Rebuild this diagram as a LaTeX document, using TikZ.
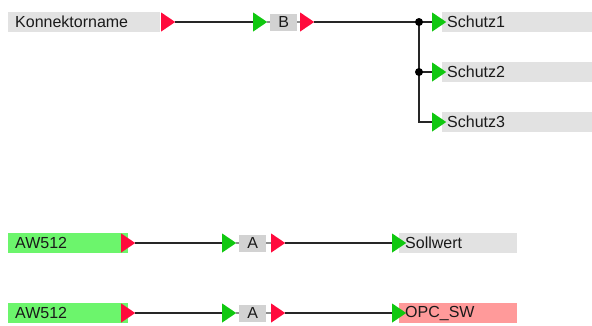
\documentclass[tikz,border=0pt]{standalone}
\usepackage{fontspec}
\setmainfont{Liberation Sans}
\definecolor{sigGray}{HTML}{E2E2E2}
\definecolor{blkGray}{HTML}{D2D2D2}
\definecolor{sigGreen}{HTML}{6CF56C}
\definecolor{sigPink}{HTML}{FF9A9A}
\definecolor{pinGreen}{HTML}{10C810}
\definecolor{pinRed}{HTML}{FF0A3C}
\definecolor{txt}{HTML}{1A1A1A}
\tikzset{
  sigbox/.style={rectangle, fill=sigGray, inner xsep=7pt, inner ysep=0pt,
    minimum height=20pt, anchor=west, align=left, text=txt,
    font=\fontsize{16}{19}\selectfont},
  blkbox/.style={rectangle, fill=blkGray, inner sep=0pt, minimum width=27pt,
    minimum height=17pt, anchor=west, text=txt, font=\fontsize{16}{19}\selectfont},
  pin/.style={rectangle, inner sep=0pt, minimum width=14pt, minimum height=19pt,
    anchor=west, path picture={\fill[#1] (path picture bounding box.north west)
      -- (path picture bounding box.east) -- (path picture bounding box.south west) -- cycle;}},
  inpin/.style={pin=pinGreen},
  outpin/.style={pin=pinRed},
  wire/.style={draw=black!85, line width=1.4pt},
  stub/.style={draw=black!45, line width=1.2pt},
  junction/.style={circle, fill=black, inner sep=0pt, minimum size=8pt}
}
\begin{document}
\begin{tikzpicture}[x=1pt,y=-1pt]
\useasboundingbox (0,0) rectangle (592,325);

% --- upper network: Konnektorname -> B -> Schutz1..3
\node[sigbox, text width=138pt] (kname) at (8,22) {Konnektorname};
\node[outpin] (kout) at (161,22) {};
\node[inpin] (bin) at (253,22) {};
\node[blkbox] (bblk) at (270,22) {B};
\node[outpin] (bout) at (300,22) {};
\node[sigbox, text width=140pt, inner xsep=5pt] (s1) at (442,22) {Schutz1};
\node[sigbox, text width=140pt, inner xsep=5pt] (s2) at (442,72) {Schutz2};
\node[sigbox, text width=140pt, inner xsep=5pt] (s3) at (442,122) {Schutz3};
\node[inpin] (s1in) at (432,22) {};
\node[inpin] (s2in) at (432,72) {};
\node[inpin] (s3in) at (432,122) {};

\draw[wire] (kout.east) -- (bin.west);
\draw[stub] (bin.east) -- (bblk.west);
\draw[stub] (bblk.east) -- (bout.west);
\draw[wire] (bout.east) -- (s1in.west);
\draw[wire] (419,22) coordinate (j1) |- (s3in.west);
\coordinate (j2) at (419,72);
\draw[wire] (j2) -- (s2in.west);
\node[junction] (d1) at (j1) {};
\node[junction] (d2) at (j2) {};

% --- AW512 -> A -> Sollwert
\node[sigbox, fill=sigGreen, text width=106pt] (aw1) at (8,243) {AW512};
\node[outpin] (aw1out) at (121,243) {};
\node[inpin] (a1in) at (222,243) {};
\node[blkbox] (a1blk) at (239,243) {A};
\node[outpin] (a1out) at (271,243) {};
\node[sigbox, text width=106pt, inner xsep=6pt] (soll) at (399,243) {Sollwert};
\node[inpin] (sollin) at (392,243) {};
\draw[wire] (aw1out.east) -- (a1in.west);
\draw[stub] (a1in.east) -- (a1blk.west);
\draw[stub] (a1blk.east) -- (a1out.west);
\draw[wire] (a1out.east) -- (sollin.west);

% --- AW512 -> A -> OPC_SW
\node[sigbox, fill=sigGreen, text width=106pt] (aw2) at (8,313) {AW512};
\node[outpin] (aw2out) at (121,313) {};
\node[inpin] (a2in) at (222,313) {};
\node[blkbox] (a2blk) at (239,313) {A};
\node[outpin] (a2out) at (271,313) {};
\node[sigbox, fill=sigPink, text width=106pt, inner xsep=6pt] (opc) at (399,313) {OPC\_SW};
\node[inpin] (opcin) at (392,313) {};
\draw[wire] (aw2out.east) -- (a2in.west);
\draw[stub] (a2in.east) -- (a2blk.west);
\draw[stub] (a2blk.east) -- (a2out.west);
\draw[wire] (a2out.east) -- (opcin.west);
\end{tikzpicture}
\end{document}
